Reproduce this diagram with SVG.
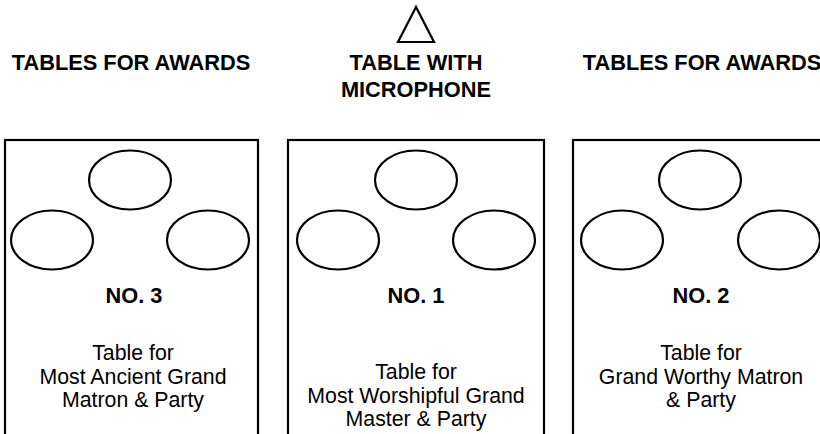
<svg xmlns="http://www.w3.org/2000/svg" width="820" height="434" viewBox="0 0 820 434">
<style>
.ln{fill:none;stroke:#000;stroke-width:2.2}
.h{font-family:"Liberation Sans",Arial,sans-serif;font-weight:bold;font-size:21.8px;text-anchor:middle;fill:#000}
.t{font-family:"Liberation Sans",Arial,sans-serif;font-size:21.3px;text-anchor:middle;fill:#000}
</style>
<rect width="820" height="434" fill="#fff"/>
<g id="microphone">
<polygon class="ln" points="416,7 398,42 434,42"/>
</g>
<g id="headings">
<text class="h" x="131" y="70">TABLES FOR AWARDS</text>
<text class="h" x="416" y="70">TABLE WITH</text>
<text class="h" x="416" y="97">MICROPHONE</text>
<text class="h" x="702" y="70">TABLES FOR AWARDS</text>
</g>
<g id="table3">
<rect class="ln" x="5" y="140" width="253" height="320"/>
<ellipse class="ln" cx="130" cy="180" rx="41" ry="29.5"/>
<ellipse class="ln" cx="52" cy="240" rx="41" ry="29.5"/>
<ellipse class="ln" cx="208" cy="240" rx="41" ry="29.5"/>
<text class="h" x="134" y="303">NO. 3</text>
<text class="t" x="133" y="360">Table for</text>
<text class="t" x="133" y="384">Most Ancient Grand</text>
<text class="t" x="133" y="407">Matron &amp; Party</text>
</g>
<g id="table1">
<rect class="ln" x="288" y="140" width="256" height="320"/>
<ellipse class="ln" cx="416" cy="180" rx="41" ry="29.5"/>
<ellipse class="ln" cx="338" cy="240" rx="41" ry="29.5"/>
<ellipse class="ln" cx="494" cy="240" rx="41" ry="29.5"/>
<text class="h" x="416" y="303">NO. 1</text>
<text class="t" x="416" y="379">Table for</text>
<text class="t" x="416" y="403">Most Worshipful Grand</text>
<text class="t" x="416" y="426">Master &amp; Party</text>
</g>
<g id="table2">
<rect class="ln" x="573" y="140" width="260" height="320"/>
<ellipse class="ln" cx="700" cy="180" rx="41" ry="29.5"/>
<ellipse class="ln" cx="622" cy="240" rx="41" ry="29.5"/>
<ellipse class="ln" cx="779" cy="240" rx="41" ry="29.5"/>
<text class="h" x="701" y="303">NO. 2</text>
<text class="t" x="701" y="360">Table for</text>
<text class="t" x="701" y="384">Grand Worthy Matron</text>
<text class="t" x="701" y="407">&amp; Party</text>
</g>
<g id="connectors"></g>
</svg>
